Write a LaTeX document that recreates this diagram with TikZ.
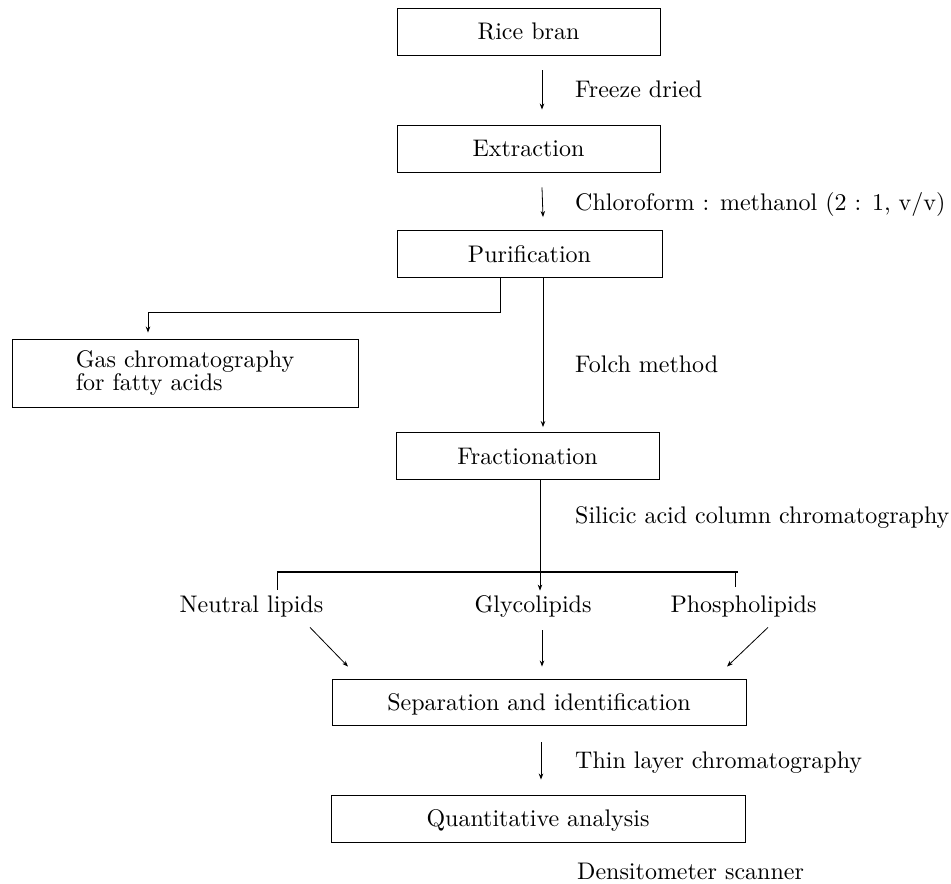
\documentclass[tikz,border=0pt]{standalone}
\usepackage{fontspec}
\setmainfont{lmroman10-regular.otf}
\usetikzlibrary{arrows.meta,calc}
\begin{document}
\begin{tikzpicture}[x=1pt,y=-1pt,
  every node/.style={font=\fontsize{24}{21}\selectfont, inner sep=0pt},
  boxbase/.style={draw, line width=0.9pt, minimum height=47pt},
  procbox/.style={boxbase, text height=16.4pt, text depth=0pt},
  tag/.style={text height=16.4pt, text depth=0pt},
  lbl/.style={anchor=base west},
  conn/.style={line width=0.8pt},
  arr/.style={conn, -{Stealth[length=6pt,width=4.5pt]}}]
\useasboundingbox (0,0) rectangle (951,884);

% boxes
\node[procbox, minimum width=263pt] (rice) at (528.5,31.5) {Rice bran};
\node[procbox, minimum width=263pt] (extr) at (528.5,148.5) {Extraction};
\node[procbox, minimum width=265pt] (puri) at (529.5,254) {Purification};
\node[boxbase, minimum width=346pt, minimum height=68pt, align=left] (gas) at (185,373) {Gas chromatography\\for fatty acids};
\node[procbox, minimum width=263pt] (frac) at (527.5,456) {Fractionation};
\node[procbox, minimum width=414pt, minimum height=46pt] (sep) at (539,702) {Separation and identification};
\node[procbox, minimum width=414pt] (quant) at (538,818.5) {Quantitative analysis};

% fraction labels
\node[tag] (nl) at (251.5,604) {Neutral lipids};
\node[tag] (gl) at (533,604) {Glycolipids};
\node[tag] (pl) at (743.5,604) {Phospholipids};

% side labels
\node[lbl] (l1) at (575,97) {Freeze dried};
\node[lbl] (l2) at (575,210) {Chloroform : methanol (2 : 1, v/v)};
\node[lbl] (l3) at (575,372) {Folch method};
\node[lbl] (l4) at (575,523) {Silicic acid column chromatography};
\node[lbl] (l5) at (575,768) {Thin layer chromatography};
\node[lbl] (l6) at (577,879) {Densitometer scanner};

% main arrows
\draw[arr] ([xshift=13.5pt,yshift=-15pt]rice.south) -- ([xshift=13.5pt,yshift=15pt]extr.north);
\draw[arr] ([xshift=13.5pt,yshift=-15pt]extr.south) -- ([xshift=13.5pt,yshift=13pt]puri.north);
\draw[arr] ([xshift=13.5pt]puri.south) -- ([xshift=15.5pt,yshift=5pt]frac.north);

% branch to gas chromatography
\coordinate (b1) at (500,312);
\coordinate (b2) at (148,312);
\draw[conn] (puri.south -| b1) -- (b1) -- (b2);
\draw[arr] (b2) -- ($(gas.north -| b2)+(0,-6)$);

% split after fractionation
\coordinate (hm) at (540,572);
\coordinate (hl) at (277,572);
\coordinate (hr) at (738,572);
\coordinate (hp) at (735,572);
\draw[conn] (frac.south -| hm) -- (hm);
\draw[conn, line width=1.1pt] (hl) -- (hr);
\draw[conn] (hl) -- ($(hl |- nl.north)+(0,-6)$);
\draw[arr] (hm) -- ($(hm |- gl.north)+(0,-5)$);
\draw[conn] (hp) -- ($(hp |- pl.north)+(0,-9)$);

% into separation
\draw[arr] ($(nl.south)+(58.5,15)$) -- ($(sep.north)+(-191,-12)$);
\draw[arr] ($(gl.south)+(9,18)$) -- ($(sep.north)+(3,-12)$);
\draw[arr] ($(pl.south)+(24.5,15)$) -- ($(sep.north)+(188,-12)$);

% to quantitative
\draw[arr] ($(sep.south)+(2,17)$) -- ($(quant.north)+(3,-15)$);
\end{tikzpicture}
\end{document}
